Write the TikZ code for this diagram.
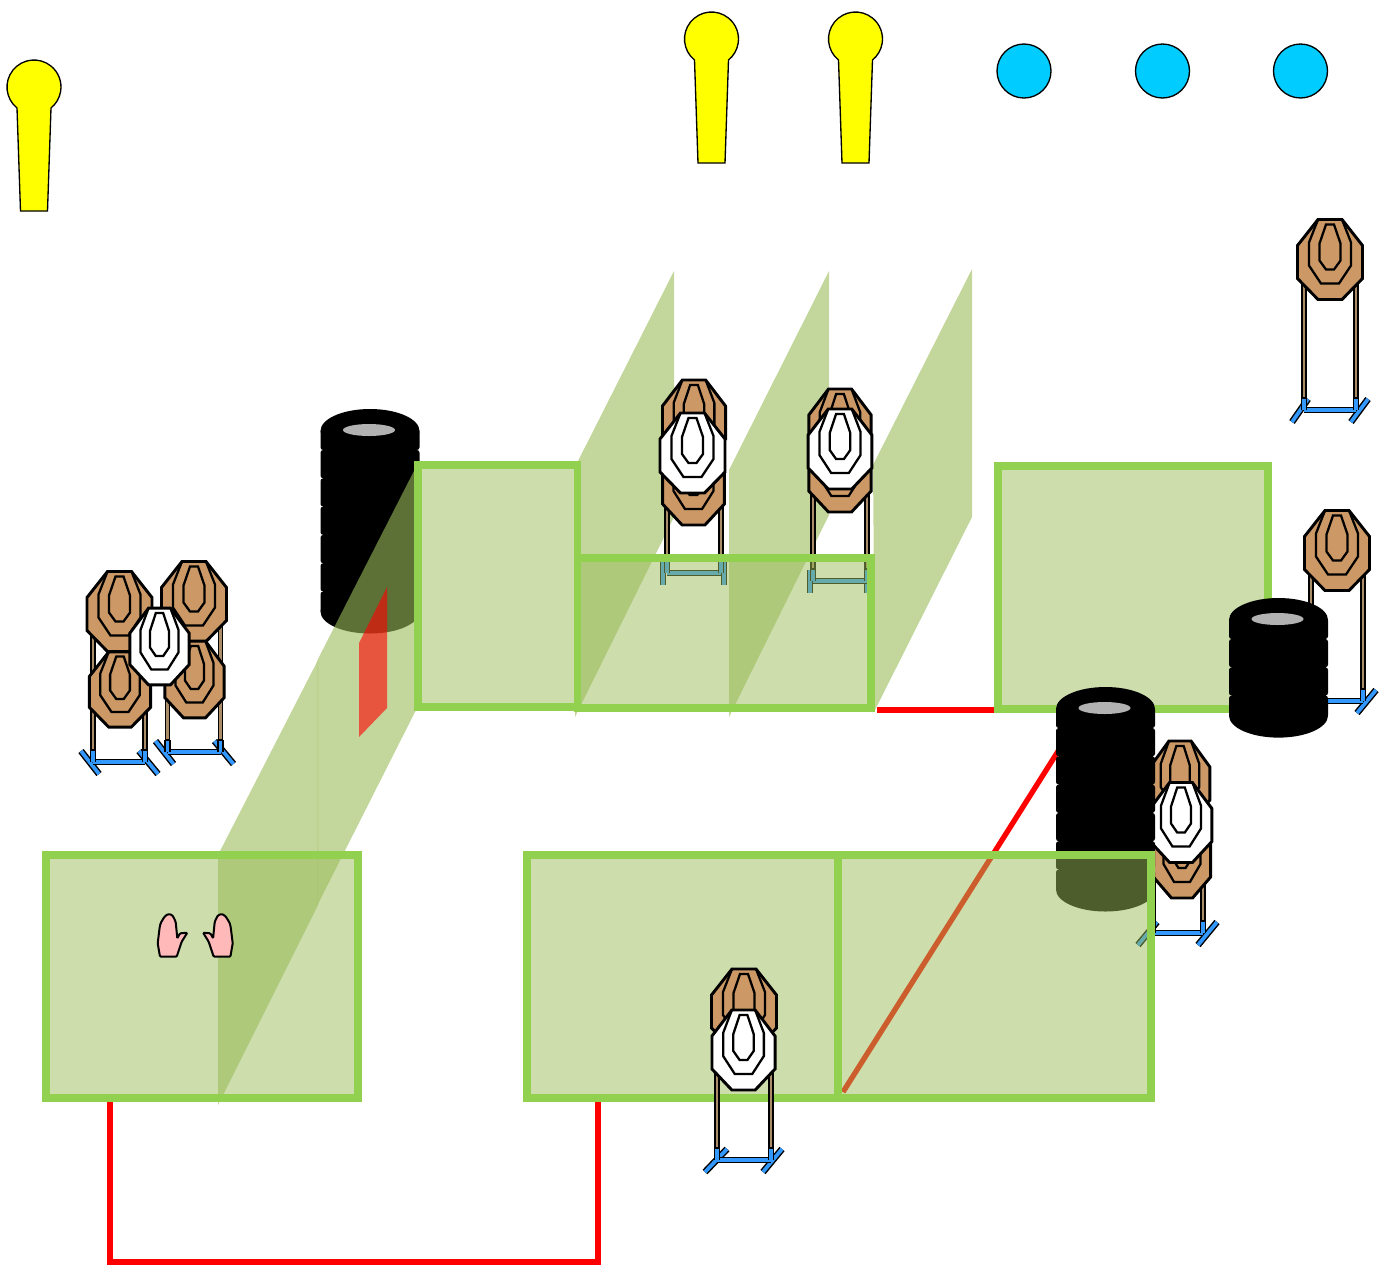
\documentclass[tikz,border=0pt]{standalone}
\usepackage{tikz}
\usepackage{color}
\definecolor{paneledge}{RGB}{146,208,80}
\definecolor{panelfill}{RGB}{155,187,89}
\definecolor{cardboard}{RGB}{204,153,102}
\definecolor{standblue}{RGB}{51,153,255}
\definecolor{polewood}{RGB}{170,140,105}
\definecolor{popper}{RGB}{255,255,0}
\definecolor{platecol}{RGB}{0,204,255}
\definecolor{handpink}{RGB}{255,185,185}
\tikzstyle{panel} = [draw=paneledge,line width=5.5pt,fill=panelfill,fill opacity=0.5,miter limit=10]
\tikzstyle{wall} = [fill=panelfill,fill opacity=0.6]
\tikzstyle{fault} = [draw=red,line width=4pt]
\tikzstyle{octline} = [draw=black,line width=2.2pt,line join=miter]
\tikzstyle{ringline} = [draw=black,line width=1.7pt,line join=miter]
\tikzstyle{standpole} = [draw=black,line width=1.4pt,fill=polewood]
\tikzstyle{standfoot} = [draw=black,line width=1.1pt,double=standblue,double distance=2.8pt]

% target face: x, y, x scale, y scale, colour
\newcommand{\octface}[5]{
\begin{scope}[shift={(#1,#2)},xscale=#3,yscale=#4]
\draw[octline,fill=#5] (-12,-40) -- (12,-40) -- (32.5,-14) -- (32.5,19) -- (12,40) -- (-12,40) -- (-32.5,19) -- (-32.5,-14) -- cycle;
\draw[ringline] (-12,-40) -- (-21,-17) -- (-21,6) -- (-9,24) -- (9,24) -- (21,6) -- (21,-17) -- (12,-40);
\draw[ringline] (-4,-35) -- (4,-35) -- (10.5,-16) -- (10.5,1) -- (4,10) -- (-4,10) -- (-10.5,1) -- (-10.5,-16) -- cycle;
\end{scope}
}

% stand: x, pole top, bar y, half width, left foot dx top/bottom, right foot dx top/bottom
\newcommand{\targetstand}[8]{
\draw[standfoot] (#1-#4+#5,#3-11) -- (#1-#4+#6,#3+12);
\draw[standfoot] (#1+#4+#7,#3-11) -- (#1+#4+#8,#3+12);
\draw[standfoot] (#1-#4,#3) -- (#1+#4,#3);
\draw[standfoot] (#1-#4,#3-12) -- (#1-#4,#3);
\draw[standfoot] (#1+#4,#3-12) -- (#1+#4,#3);
\draw[standpole] (#1-#4-2,#2) rectangle (#1-#4+2,#3-12);
\draw[standpole] (#1+#4-2,#2) rectangle (#1+#4+2,#3-12);
}

% tyre stack: x, y of top ellipse, number of tyres
\newcommand{\tirestack}[3]{
\pgfmathtruncatemacro{\lasttire}{#3-2}
\fill[black] (#1,#2) ellipse (49.5 and 22);
\fill[black] (#1-47,#2) rectangle (#1+47,#2+39+28.3*\lasttire);
\fill[black,rounded corners=2pt] (#1-49.5,#2-2) rectangle (#1+49.5,#2+19);
\foreach \k in {1,...,\lasttire}
{
\fill[black,rounded corners=2pt] (#1-49.5,#2+19+28.3*\k-28.3) rectangle (#1+49.5,#2+19+28.3*\k);
}
\fill[black,rounded corners=2pt] (#1-49.5,#2+19+28.3*\lasttire) rectangle (#1+49.5,#2+41+28.3*\lasttire);
\fill[black] (#1,#2+39+28.3*\lasttire) ellipse (49.5 and 22);
\fill[black!30] (#1-1,#2-1) ellipse (26 and 6);
}

% popper: x, y of the head
\newcommand{\popperpin}[2]{
\draw[fill=popper,line width=1pt] (#1+17,#2+21) -- (#1+13.5,#2+124) -- (#1-13.5,#2+124) -- (#1-17,#2+21) arc[start angle=129,end angle=411,radius=27];
}

\newcommand{\handshape}{
\draw[fill=handpink,line width=1.5pt,rounded corners=0.8pt] (-35.2,56.7) -- (-37.5,43.3) -- (-35.5,27) -- (-34.5,23) -- (-31.5,18) -- (-30,16) -- (-27,14) -- (-23,15) -- (-21,18.5) -- (-19.5,22) -- (-19,27) -- (-17.9,38.3) -- (-15.2,33.3) -- (-7.9,32.7) -- (-13.5,41.7) -- (-18.5,56.7) -- cycle;
}

\begin{document}
\begin{tikzpicture}[x=0.75pt,y=-0.75pt]
\useasboundingbox (0,0) rectangle (1385,1265);

\coordinate (faultA) at (110,1098);
\coordinate (faultB) at (110,1262);
\coordinate (faultC) at (598,1262);
\coordinate (faultD) at (598,1100);
\coordinate (faultE) at (877,710);
\coordinate (faultF) at (997,710);
\coordinate (faultG) at (1062,745);
\coordinate (faultH) at (843,1092);

\draw[fault] (faultA) -- (faultB) -- (faultC) -- (faultD);
\draw[fault] (faultE) -- (faultF);
\draw[fault] (faultG) -- (faultH);

% walls behind the targets
\fill[wall] (674,271) -- (674,517) -- (575,717) -- (575,467) -- cycle;
\fill[wall] (829,271) -- (829,515) -- (729,717) -- (729,470) -- cycle;
\fill[wall] (972,269) -- (972,517) -- (875,710) -- (873,465) -- cycle;

% targets
\targetstand{1330}{270}{410}{26}{4}{-12}{12}{-5}
\octface{1330}{259.5}{1}{1}{cardboard}

\targetstand{1337}{570}{701}{26}{4}{-12}{13}{-6}
\octface{1337}{550.5}{1}{1}{cardboard}

\targetstand{119}{620}{762}{26}{-12}{6}{-6}{13}
\octface{119.5}{611.5}{1}{1}{cardboard}
\octface{120}{689.5}{0.94}{0.94}{cardboard}
\targetstand{194}{610}{752}{26.5}{-12}{6}{-6}{13}
\octface{194}{601.5}{1}{1}{cardboard}
\octface{194.5}{679.5}{0.91}{0.96}{cardboard}
\octface{159.5}{646.5}{0.91}{0.96}{white}

\targetstand{694}{490}{573}{27}{-4}{-4}{3}{3}
\octface{694}{420}{0.97}{1}{cardboard}
\octface{693.5}{485}{0.95}{1}{cardboard}
\octface{692.5}{453}{1}{1}{white}

\targetstand{840}{480}{581}{27}{-3}{-3}{0}{0}
\octface{840}{429}{0.96}{1}{cardboard}
\octface{840}{472}{0.96}{1}{cardboard}
\octface{840}{449}{0.98}{1}{white}

\targetstand{1178}{850}{933}{25}{4}{-15}{14}{-5}
\octface{1180}{781}{0.92}{1}{cardboard}
\octface{1182}{858}{0.88}{1}{cardboard}
\octface{1181}{822.5}{0.95}{1}{white}

% barrels
\tirestack{370}{431}{7}

\draw[panel] (998,466) rectangle (1268,709);

\tirestack{1105.5}{709}{7}
\tirestack{1278.5}{620}{4}

% long wall and the red strip
\fill[wall] (416,467) -- (416,710) -- (317.5,905) -- (317.5,660) -- cycle;
\fill[wall] (318,660) -- (318,905) -- (218,1105) -- (218,855) -- cycle;
\fill[red,fill opacity=0.6] (387,587) -- (387,708) -- (359,737) -- (359,643) -- cycle;

% shooting boxes
\draw[panel] (46,855) rectangle (358,1098);
\draw[panel] (527,855) rectangle (838,1098);
\draw[panel] (838,855) rectangle (1151,1098);
\draw[panel] (418,465) rectangle (577.5,707);
\draw[panel] (577.5,558) rectangle (871,708);

% target in front of the boxes
\targetstand{744}{1060}{1160}{27}{10}{-12}{11}{-8}
\octface{744}{1009}{1}{1}{cardboard}
\octface{743.5}{1050}{0.97}{1}{white}

% poppers and plates
\popperpin{34}{87}
\popperpin{711.5}{39}
\popperpin{855.5}{39}
\foreach \x in {1024,1162.5,1300.5}
{
\draw[fill=platecol,line width=1pt] (\x,71) circle (27);
}

% hands
\begin{scope}[shift={(195.2,900)}]
\handshape
\end{scope}
\begin{scope}[shift={(195.2,900)},xscale=-1]
\handshape
\end{scope}
\end{tikzpicture}
\end{document}
